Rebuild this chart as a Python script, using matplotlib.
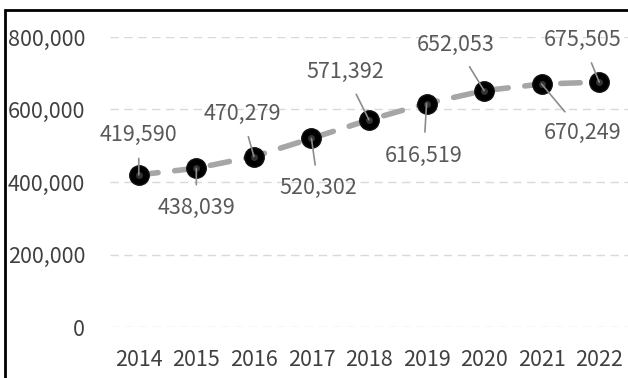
import matplotlib
matplotlib.use("Agg")
import matplotlib.pyplot as plt
from matplotlib.patches import Rectangle

plt.rcParams['font.family'] = ['Noto Sans CJK JP', 'DejaVu Sans']

years = ["2014", "2015", "2016", "2017", "2018", "2019", "2020", "2021", "2022"]
values = [419590, 438039, 470279, 520302, 571392, 616519, 652053, 670249, 675505]
# label offsets from the point, in pixels (x right, y up)
label_dx = [0, 0, -12, 7, -24, -3, -28, 41, -17]
label_dy = [40, -40, 43, -50, 48, -52, 46, -49, 42]
yticks = [0, 200000, 400000, 600000, 800000]

fig = plt.figure(figsize=(6.28, 3.78), dpi=100)
ax = fig.add_axes([110 / 628, 51 / 378, 518 / 628, 290 / 378])

x = list(range(len(years)))

ax.set_xlim(-0.5, len(years) - 0.5)
ax.set_ylim(0, 800000)
ax.set_yticks(yticks)
ax.set_yticklabels([f"{v:,}" for v in yticks])
ax.set_xticks(x)
ax.set_xticklabels(years)
ax.tick_params(length=0, labelsize=15.5, labelcolor="#404040")
ax.tick_params(axis="y", pad=18)
ax.tick_params(axis="x", pad=16)
for s in ax.spines.values():
    s.set_visible(False)
ax.yaxis.grid(True, color="#D9D9D9", linestyle=(0, (6, 4)), linewidth=1.0)
ax.set_axisbelow(True)

ax.plot(x, values, color="#A6A6A6", linewidth=4, linestyle=(0, (3.5, 3)),
        dash_capstyle="round", zorder=2)
ax.plot(x, values, linestyle="none", marker="o", markersize=14,
        markerfacecolor="#000000", markeredgecolor="#111111", zorder=3)
# a little sheen on the markers
ax.plot(x, values, linestyle="none", marker="o", markersize=5,
        markerfacecolor="#555555", markeredgecolor="none", alpha=0.6, zorder=3.5)

for i, v in enumerate(values):
    ax.annotate(f"{v:,}", xy=(i, v), xytext=(label_dx[i], label_dy[i]),
                textcoords="offset pixels", ha="center", va="center",
                fontsize=15.5, color="#595959", zorder=5,
                arrowprops=dict(arrowstyle="-", color="#8C8C8C", lw=1.2,
                                shrinkA=7, shrinkB=0))

fig.patches.append(Rectangle((5 / 628, -0.1), 1.2, (378 - 10) / 378 + 0.1,
                             transform=fig.transFigure, fill=False,
                             edgecolor="black", linewidth=2))

fig.savefig("out.png", dpi=100)
